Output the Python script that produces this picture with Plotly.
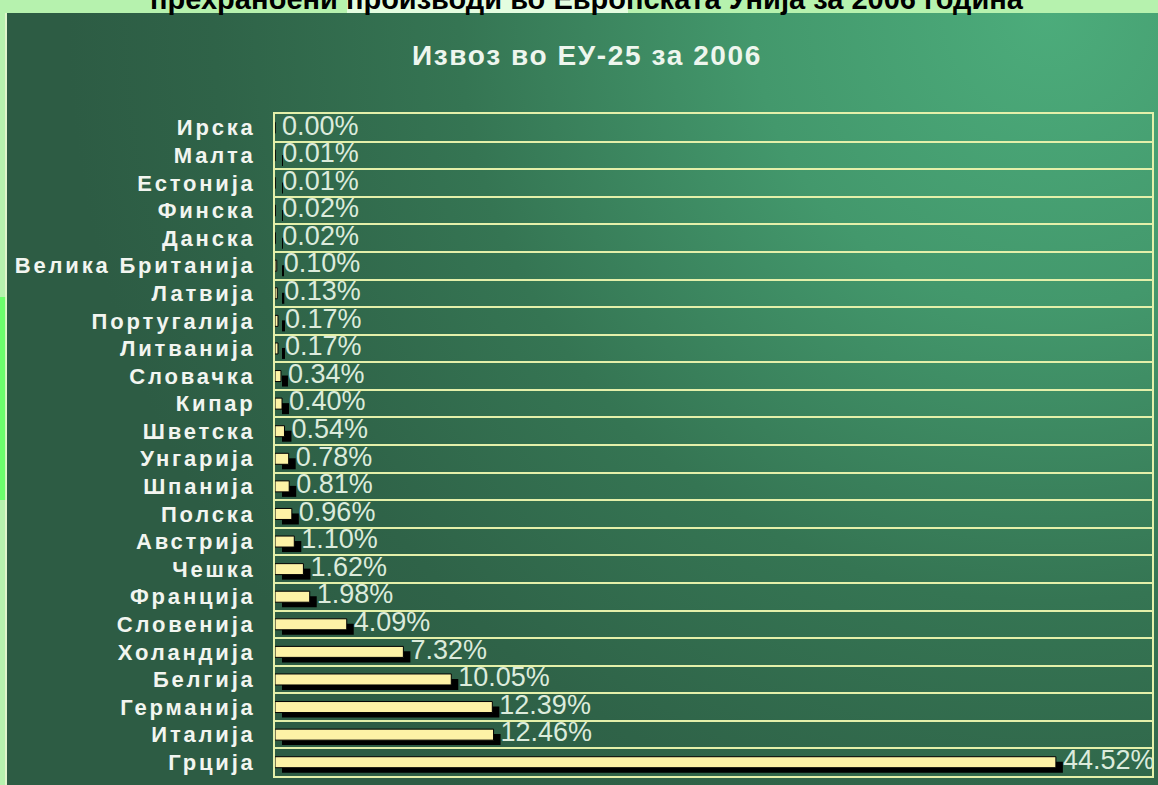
import base64
import plotly.graph_objects as go

# ---------------- data ----------------
countries = ["Ирска", "Малта", "Естонија", "Финска", "Данска", "Велика Британија",
             "Латвија", "Португалија", "Литванија", "Словачка", "Кипар", "Шветска",
             "Унгарија", "Шпанија", "Полска", "Австрија", "Чешка", "Франција",
             "Словенија", "Холандија", "Белгија", "Германија", "Италија", "Грција"]
shares = [0.00, 0.01, 0.01, 0.02, 0.02, 0.10, 0.13, 0.17, 0.17, 0.34, 0.40, 0.54,
          0.78, 0.81, 0.96, 1.10, 1.62, 1.98, 4.09, 7.32, 10.05, 12.39, 12.46, 44.52]
value_labels = [f"{v:.2f}%" for v in shares]
chart_title = "Извоз во ЕУ-25 за 2006"
page_title = "прехранбени производи во Европската Унија за 2006 година"

# ---------------- geometry ----------------
W, H = 1158, 785
L, R, T, B = 275, 6, 114, 9
PW, PH = W - L - R, H - T - B
X_MAX = 50.0
n = len(countries)
row_px = PH / n


def px_x(px):
    return (px - L) / PW


def px_y(py):
    return (H - B - py) / PH


shadow_dx = 7 * X_MAX / PW
bar_w = 11 / row_px
shadow_dy = 5 / row_px

LINE_COL = "#e4f0aa"
FONT = "Liberation Sans, Arial, sans-serif"

# background gradient panel as svg image
pw_, ph_ = 1151, 772
svg = f'''<svg xmlns="http://www.w3.org/2000/svg" width="{pw_}" height="{ph_}" viewBox="0 0 {pw_} {ph_}" preserveAspectRatio="none">
<defs><radialGradient id="g" gradientUnits="userSpaceOnUse" cx="1040" cy="0" r="980">
<stop offset="0" stop-color="#4cac7b"/>
<stop offset="0.3" stop-color="#43986c"/>
<stop offset="0.6" stop-color="#357553"/>
<stop offset="0.85" stop-color="#2f6348"/>
<stop offset="1" stop-color="#2d5c44"/>
</radialGradient></defs>
<rect x="0" y="0" width="{pw_}" height="{ph_}" fill="url(#g)"/>
</svg>'''
svg_uri = "data:image/svg+xml;base64," + base64.b64encode(svg.encode()).decode()

fig = go.Figure()

# shadow bars
fig.add_trace(go.Bar(
    y=countries, x=shares, base=shadow_dx, orientation="h",
    marker=dict(color="black", line=dict(width=0)),
    width=bar_w, offset=-bar_w / 2 + shadow_dy, hoverinfo="skip", showlegend=False))
# main bars
fig.add_trace(go.Bar(
    y=countries, x=shares, orientation="h",
    marker=dict(color="#fdf2a6", line=dict(color="black", width=1)),
    width=bar_w, offset=-bar_w / 2, hoverinfo="skip", showlegend=False))
# value labels
fig.add_trace(go.Scatter(
    y=countries, x=[v + shadow_dx for v in shares], mode="text", text=value_labels,
    textposition="middle right", cliponaxis=False,
    textfont=dict(family=FONT, size=27, color="#dcebdc"),
    hoverinfo="skip", showlegend=False))

fig.update_layout(
    width=W, height=H,
    margin=dict(l=L, r=R, t=T, b=B, autoexpand=False),
    paper_bgcolor="#b6f2ae", plot_bgcolor="rgba(0,0,0,0)",
    barmode="overlay",
    title=dict(text=chart_title, x=587 / W, xanchor="center", xref="container",
               y=1 - 55 / H, yanchor="middle", yref="container",
               font=dict(family=FONT, size=28, color="#eef6ee", weight="bold")),
    xaxis=dict(range=[0, X_MAX], showgrid=False, zeroline=False, showticklabels=False,
               showline=True, mirror=True, linecolor=LINE_COL, linewidth=2, fixedrange=True),
    yaxis=dict(type="category", range=[n - 0.5, -0.5], tickson="boundaries",
               showgrid=True, gridcolor=LINE_COL, gridwidth=2,
               showline=True, mirror=True, linecolor=LINE_COL, linewidth=2,
               ticks="", ticklabelstandoff=13, automargin=False,
               tickfont=dict(family=FONT, size=22, color="#f2f5f0", weight="bold")),
    images=[dict(source=svg_uri, xref="paper", yref="paper",
                 x=px_x(7), y=px_y(13), sizex=pw_ / PW, sizey=ph_ / PH,
                 xanchor="left", yanchor="top", sizing="stretch", layer="below")],
    shapes=[
        dict(type="rect", xref="paper", yref="paper", x0=px_x(0), x1=px_x(6),
             y0=px_y(500), y1=px_y(297), fillcolor="#6cff6c", line=dict(width=0), layer="below"),
        dict(type="rect", xref="paper", yref="paper", x0=px_x(347), x1=px_x(628),
             y0=px_y(13), y1=px_y(0), fillcolor="#e4fde0", line=dict(width=0), layer="below"),
        dict(type="line", xref="paper", yref="paper", x0=px_x(6), x1=px_x(6),
             y0=px_y(785), y1=px_y(13), line=dict(color="#eef6d6", width=1.5), layer="below"),
    ],
    annotations=[dict(text=page_title, xref="paper", yref="paper",
                      x=px_x(587), y=px_y(-1), xanchor="center", yanchor="middle",
                      showarrow=False,
                      font=dict(family=FONT, size=29, color="black", weight="bold"))],
)

post_js = """
document.documentElement.style.margin = '0';
document.documentElement.style.padding = '0';
document.body.style.margin = '0';
document.body.style.padding = '0';
document.body.style.overflow = 'hidden';
var gd = document.getElementById('{plot_id}');
function spaceOut(){
  gd.querySelectorAll('.ytick text').forEach(function(t){ t.style.letterSpacing = '2.8px'; });
  gd.querySelectorAll('.gtitle').forEach(function(t){ t.style.letterSpacing = '1.6px'; });
}
spaceOut();
gd.on('plotly_afterplot', spaceOut);
"""

fig.write_html("out.html", post_script=post_js, config={"displayModeBar": False})
